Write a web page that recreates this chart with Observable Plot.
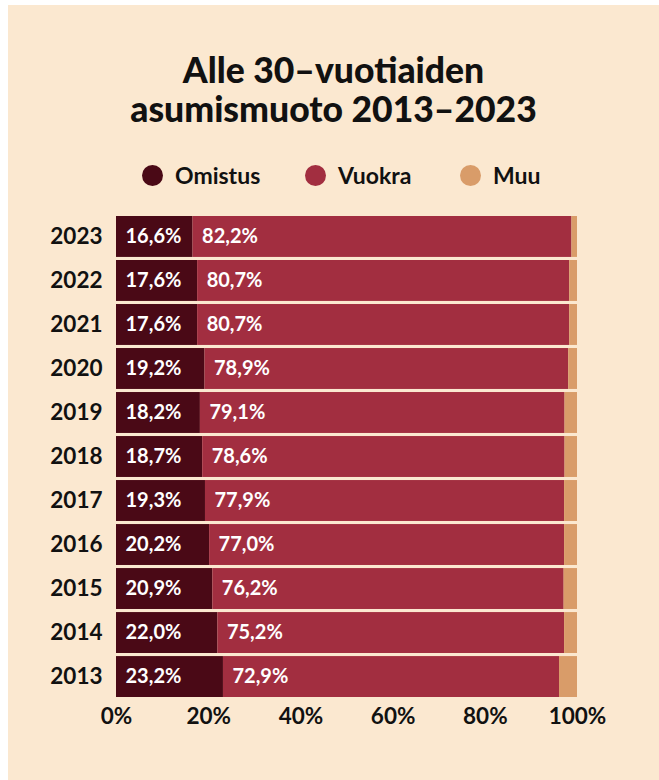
<!DOCTYPE html>
<html>
<head>
<meta charset="utf-8">
<script src="https://cdn.jsdelivr.net/npm/d3@7"></script>
<script src="https://cdn.jsdelivr.net/npm/@observablehq/plot@0.6"></script>
<style>
  html, body { margin: 0; padding: 0; background: #ffffff; }
  body { width: 659px; height: 780px; position: relative; overflow: hidden; font-family: Lato, "Noto Sans", sans-serif; }
  #panel { position: absolute; left: 8px; top: 5px; width: 651px; height: 775px; background: #fbe8d0; }
  .tline { position: absolute; left: 0; width: 651px; text-align: center; font-size: 35.5px; font-weight: 900; line-height: 38px; height: 38px; color: #111; white-space: nowrap; }
  #legend { position: absolute; top: 157px; left: 0; width: 651px; height: 26px; }
  .item { position: absolute; top: 0; display: flex; align-items: center; height: 26px; font-size: 23px; font-weight: 700; color: #111; }
  .dot { width: 21px; height: 21px; border-radius: 50%; margin-right: 12px; }
  #chart { position: absolute; left: 0; top: 195px; }
</style>
</head>
<body>
<div id="panel">
  <div class="tline" style="top:46px">Alle 30–vuotiaiden</div>
  <div class="tline" style="top:85px">asumismuoto 2013–2023</div>
  <div id="legend"></div>
  <div id="chart"></div>
</div>
<script>
const years = ["2023","2022","2021","2020","2019","2018","2017","2016","2015","2014","2013"];
const omistus = [16.6, 17.6, 17.6, 19.2, 18.2, 18.7, 19.3, 20.2, 20.9, 22.0, 23.2];
const vuokra  = [82.2, 80.7, 80.7, 78.9, 79.1, 78.6, 77.9, 77.0, 76.2, 75.2, 72.9];
const muu     = [1.2, 1.7, 1.7, 1.9, 2.7, 2.7, 2.8, 2.8, 2.9, 2.8, 3.9];
const categories = ["Omistus", "Vuokra", "Muu"];
const colors = ["#4a0916", "#a22e40", "#d99c69"];
const xTicks = [0, 20, 40, 60, 80, 100];
const legendX = [142, 305, 460];

// legend
const legend = document.getElementById("legend");
categories.forEach((c, i) => {
  const it = document.createElement("div");
  it.className = "item";
  it.style.left = (legendX[i] - 8) + "px";
  const d = document.createElement("span");
  d.className = "dot";
  d.style.background = colors[i];
  it.appendChild(d);
  it.appendChild(document.createTextNode(c));
  legend.appendChild(it);
});

// data table
const series = [omistus, vuokra, muu];
const rows = [];
years.forEach((y, i) => {
  let acc = 0;
  categories.forEach((c, k) => {
    const v = series[k][i];
    rows.push({year: y, cat: c, value: v, x1: acc, x2: acc + v});
    acc += v;
  });
});
const labelRows = rows.filter(d => d.cat !== "Muu");
const fmt = v => v.toFixed(1).replace(".", ",") + "%";

const chart = Plot.plot({
  width: 651,
  height: 560,
  marginLeft: 108,
  marginRight: 82,
  marginTop: 16,
  marginBottom: 63,
  style: { background: "transparent", fontFamily: "Lato, 'Noto Sans', sans-serif", color: "#111" },
  x: { domain: [0, 100], ticks: xTicks, tickFormat: d => d + "%", tickSize: 0, tickPadding: 11, label: null },
  y: { domain: years, paddingInner: 0.07, paddingOuter: 0, round: false, tickSize: 0, tickPadding: 14, label: null },
  color: { domain: categories, range: colors },
  marks: [
    Plot.barX(rows, { x1: "x1", x2: "x2", y: "year", fill: "cat" }),
    Plot.text(labelRows, { x: "x1", y: "year", text: d => fmt(d.value), fill: "#ffffff", textAnchor: "start", dx: 9, fontSize: 20, fontWeight: 700 })
  ]
});
chart.querySelectorAll("g[aria-label='y-axis tick label'], g[aria-label='x-axis tick label']").forEach(g => {
  g.setAttribute("font-size", "22.5");
  g.setAttribute("font-weight", "700");
  g.setAttribute("fill", "#111");
});
document.getElementById("chart").appendChild(chart);
</script>
</body>
</html>
